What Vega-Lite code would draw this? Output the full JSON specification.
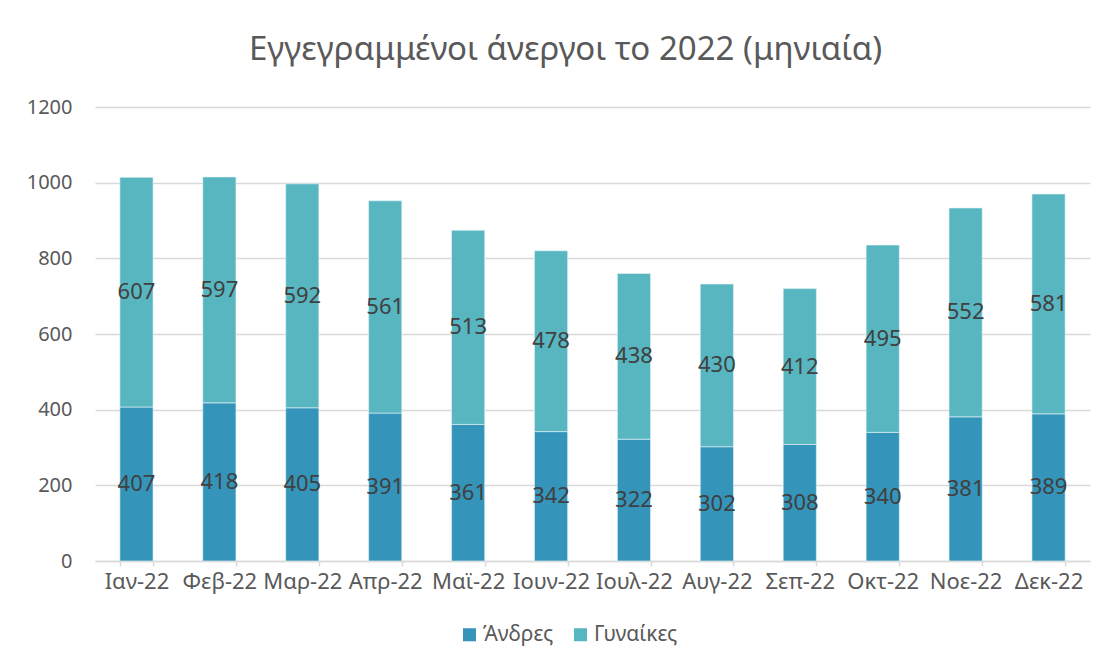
{
  "$schema": "https://vega.github.io/schema/vega-lite/v6.json",
  "width": 995,
  "height": 454,
  "autosize": {"type": "none"},
  "padding": {"left": 95, "top": 107, "right": 22, "bottom": 109},
  "background": "#ffffff",
  "config": {
    "font": "Noto Sans",
    "view": {"stroke": null},
    "axis": {"labelFont": "Noto Sans", "labelColor": "#595959", "labelFontSize": 20}
  },
  "title": {
    "text": "Εγγεγραμμένοι άνεργοι το 2022 (μηνιαία)",
    "fontSize": 33,
    "fontWeight": "normal",
    "color": "#595959",
    "anchor": "middle",
    "frame": "group",
    "offset": 30,
    "dx": -27
  },
  "data": {
    "values": [
      {"month": "Ιαν-22", "sex": "Άνδρες", "ord": 1, "value": 407},
      {"month": "Φεβ-22", "sex": "Άνδρες", "ord": 1, "value": 418},
      {"month": "Μαρ-22", "sex": "Άνδρες", "ord": 1, "value": 405},
      {"month": "Απρ-22", "sex": "Άνδρες", "ord": 1, "value": 391},
      {"month": "Μαϊ-22", "sex": "Άνδρες", "ord": 1, "value": 361},
      {"month": "Ιουν-22", "sex": "Άνδρες", "ord": 1, "value": 342},
      {"month": "Ιουλ-22", "sex": "Άνδρες", "ord": 1, "value": 322},
      {"month": "Αυγ-22", "sex": "Άνδρες", "ord": 1, "value": 302},
      {"month": "Σεπ-22", "sex": "Άνδρες", "ord": 1, "value": 308},
      {"month": "Οκτ-22", "sex": "Άνδρες", "ord": 1, "value": 340},
      {"month": "Νοε-22", "sex": "Άνδρες", "ord": 1, "value": 381},
      {"month": "Δεκ-22", "sex": "Άνδρες", "ord": 1, "value": 389},
      {"month": "Ιαν-22", "sex": "Γυναίκες", "ord": 2, "value": 607},
      {"month": "Φεβ-22", "sex": "Γυναίκες", "ord": 2, "value": 597},
      {"month": "Μαρ-22", "sex": "Γυναίκες", "ord": 2, "value": 592},
      {"month": "Απρ-22", "sex": "Γυναίκες", "ord": 2, "value": 561},
      {"month": "Μαϊ-22", "sex": "Γυναίκες", "ord": 2, "value": 513},
      {"month": "Ιουν-22", "sex": "Γυναίκες", "ord": 2, "value": 478},
      {"month": "Ιουλ-22", "sex": "Γυναίκες", "ord": 2, "value": 438},
      {"month": "Αυγ-22", "sex": "Γυναίκες", "ord": 2, "value": 430},
      {"month": "Σεπ-22", "sex": "Γυναίκες", "ord": 2, "value": 412},
      {"month": "Οκτ-22", "sex": "Γυναίκες", "ord": 2, "value": 495},
      {"month": "Νοε-22", "sex": "Γυναίκες", "ord": 2, "value": 552},
      {"month": "Δεκ-22", "sex": "Γυναίκες", "ord": 2, "value": 581}
    ]
  },
  "layer": [
    {
      "mark": {"type": "bar", "stroke": "#e8f4f7", "strokeWidth": 0.6},
      "encoding": {
        "x": {
          "field": "month",
          "type": "nominal",
          "sort": null,
          "scale": {"paddingInner": 0.6, "paddingOuter": 0.3},
          "axis": {
            "title": null,
            "labelAngle": 0,
            "labelFontSize": 22,
            "domainColor": "#d9d9d9",
            "domainWidth": 1.5,
            "tickColor": "#d9d9d9",
            "tickWidth": 1.5,
            "tickSize": 5,
            "tickBand": "extent",
            "labelPadding": 5,
            "grid": false
          }
        },
        "y": {
          "field": "value",
          "type": "quantitative",
          "aggregate": "sum",
          "stack": "zero",
          "scale": {"domain": [0, 1200]},
          "axis": {
            "title": null,
            "format": "d",
            "values": [0, 200, 400, 600, 800, 1000, 1200],
            "domain": false,
            "ticks": false,
            "labelPadding": 23,
            "gridColor": "#d9d9d9",
            "gridWidth": 1.5
          }
        },
        "color": {
          "field": "sex",
          "type": "nominal",
          "scale": {"domain": ["Άνδρες", "Γυναίκες"], "range": ["#3494BA", "#58B6C0"]},
          "legend": {
            "title": null,
            "orient": "none",
            "direction": "horizontal",
            "legendX": 364,
            "legendY": 517,
            "symbolType": "square",
            "symbolSize": 170,
            "symbolStrokeWidth": 0,
            "labelFontSize": 21,
            "labelColor": "#595959",
            "labelFont": "Noto Sans",
            "columnPadding": 16,
            "labelOffset": 3
          }
        },
        "order": {"field": "ord", "type": "quantitative", "sort": "ascending"}
      }
    },
    {
      "transform": [
        {"stack": "value", "groupby": ["month"], "sort": [{"field": "ord", "order": "ascending"}], "as": ["y0", "y1"]},
        {"fold": ["y0", "y1"], "as": ["k", "v"]}
      ],
      "mark": {"type": "text", "fontSize": 22, "color": "#404040", "baseline": "middle", "align": "center"},
      "encoding": {
        "x": {"field": "month", "type": "nominal", "sort": null},
        "y": {"field": "v", "type": "quantitative", "aggregate": "mean"},
        "detail": {"field": "sex", "type": "nominal"},
        "text": {"field": "value", "type": "quantitative"}
      }
    }
  ]
}
